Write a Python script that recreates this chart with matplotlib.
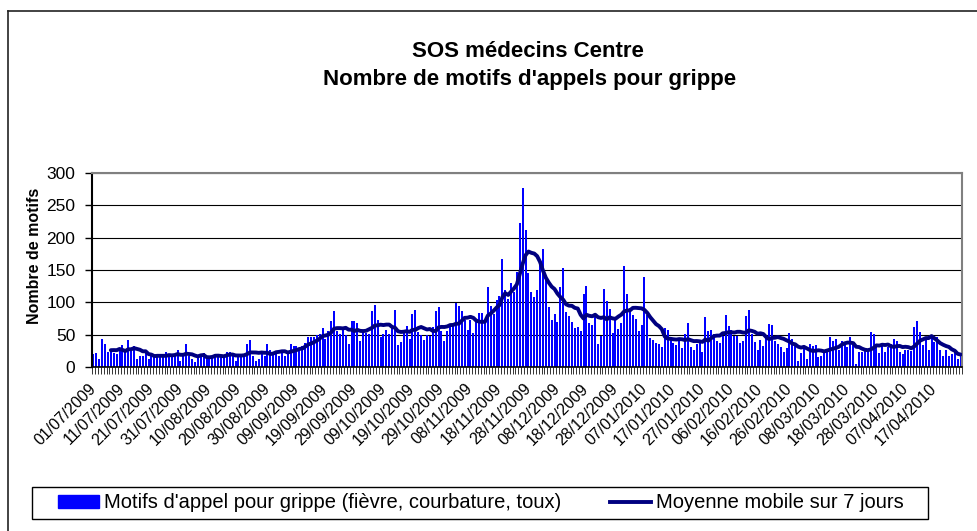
import matplotlib
matplotlib.use("Agg")
import matplotlib.pyplot as plt
import numpy as np
import pandas as pd
from matplotlib.lines import Line2D
from matplotlib.patches import Rectangle
from matplotlib.transforms import ScaledTranslation

# Nombre journalier de motifs d'appel pour grippe
juillet = [20, 21, 13, 44, 35, 23, 26, 21, 20, 26, 34, 23, 42, 26, 33, 12,
           17, 17, 23, 12, 20, 17, 15, 17, 17, 23, 20, 17, 20, 26, 9]
aout = [17, 35, 17, 13, 7, 17, 20, 21, 12, 15, 17, 20, 18, 17, 17, 23,
        23, 17, 10, 17, 17, 20, 36, 41, 17, 9, 13, 21, 17, 36, 27]
septembre = [23, 23, 17, 27, 17, 23, 35, 32, 32, 29, 32, 37, 46, 46, 46,
             49, 51, 60, 43, 55, 71, 86, 55, 51, 57, 49, 35, 71, 71, 68]
octobre = [40, 55, 52, 51, 86, 96, 72, 46, 51, 57, 51, 60, 88, 34, 38, 54,
           63, 43, 82, 88, 54, 49, 41, 49, 48, 62, 86, 93, 55, 40, 55]
novembre = [63, 63, 99, 94, 86, 72, 57, 72, 52, 69, 83, 83, 74, 124, 94,
            82, 103, 110, 167, 119, 105, 130, 116, 147, 223, 277, 212, 145,
            116, 108]
decembre = [119, 161, 183, 134, 93, 72, 82, 69, 124, 153, 85, 79, 70, 60,
            62, 56, 113, 125, 68, 65, 77, 35, 48, 121, 102, 90, 53, 73, 59,
            68, 156]
janvier = [113, 91, 80, 74, 56, 65, 139, 80, 45, 42, 37, 35, 31, 60, 57,
           43, 37, 34, 40, 29, 51, 68, 31, 27, 35, 37, 23, 77, 55, 57, 51]
fevrier = [40, 37, 48, 80, 63, 57, 48, 48, 37, 40, 79, 88, 51, 38, 27, 42,
           32, 45, 66, 65, 40, 35, 31, 23, 29, 52, 43, 32]
mars = [10, 21, 31, 13, 35, 32, 34, 15, 17, 23, 23, 46, 40, 43, 26, 40, 38,
        31, 46, 34, 4, 23, 23, 26, 26, 54, 51, 31, 21, 32, 23]
avril = [31, 36, 43, 40, 23, 20, 26, 27, 24, 62, 71, 54, 34, 41, 27, 46, 38,
         46, 26, 17, 27, 17, 20, 23, 13, 18]

motifs = (juillet + aout + septembre + octobre + novembre + decembre
          + janvier + fevrier + mars + avril)
dates = pd.date_range("2009-07-01", periods=len(motifs), freq="D")
moyenne = pd.Series(motifs).rolling(7).mean()

label_barres = "Motifs d'appel pour grippe (fièvre, courbature, toux)"
label_courbe = "Moyenne mobile sur 7 jours"

plt.rcParams['font.family'] = ['Liberation Sans', 'DejaVu Sans']

W, H = 977, 531
fig = plt.figure(figsize=(W / 100, H / 100), dpi=100)
ax = fig.add_axes([92 / W, 1 - 367 / H, 870 / W, 194 / H])

x = np.arange(len(motifs))
ax.bar(x, motifs, width=0.7, color='#0000FF', zorder=2)
ax.plot(x, moyenne, color='#000080', lw=2.8, zorder=3,
        solid_capstyle='round')

ax.set_xlim(-0.5, len(motifs) - 0.5)
ax.set_ylim(0, 300)
ax.set_yticks(range(0, 301, 50))
ax.yaxis.grid(True, color='black', lw=0.8)
ax.set_axisbelow(True)

ax.set_xticks(x[::10])
ax.set_xticklabels([d.strftime('%d/%m/%Y') for d in dates[::10]])
decalage = ScaledTranslation(-4 / 100, 0, fig.dpi_scale_trans)
for lab in ax.get_xticklabels():
    lab.set_rotation(45)
    lab.set_ha('right')
    lab.set_va('center')
    lab.set_rotation_mode('anchor')
    lab.set_fontsize(11.5)
    lab.set_transform(lab.get_transform() + decalage)
ax.set_xticks(np.arange(-0.5, len(motifs)), minor=True)
ax.tick_params(axis='x', which='major', length=0, pad=14)
ax.tick_params(axis='x', which='minor', length=5, width=0.7, color='#333333')
ax.tick_params(axis='y', length=5, width=1, labelsize=12.5, pad=7)

for s in ('top', 'right'):
    ax.spines[s].set_color('#808080')
    ax.spines[s].set_linewidth(1.5)
ax.spines['left'].set_linewidth(1.5)
ax.spines['bottom'].set_linewidth(1.2)

ax.set_ylabel('Nombre de motifs', fontsize=11.5, fontweight='bold')
ax.yaxis.set_label_coords((42 - 92) / 870, (367 - 256) / 194)

fig.text(528 / W, 1 - 57 / H, 'SOS médecins Centre', ha='center',
         va='baseline', fontsize=16, fontweight='bold')
fig.text(530 / W, 1 - 85 / H, "Nombre de motifs d'appels pour grippe",
         ha='center', va='baseline', fontsize=16, fontweight='bold')

# cadre du graphique (bord gauche et haut visibles)
fig.add_artist(Line2D([8 / W, 8 / W], [0, 1 - 11 / H], color='#222222',
                      lw=1.2, transform=fig.transFigure))
fig.add_artist(Line2D([8 / W, 1], [1 - 11 / H, 1 - 11 / H], color='#222222',
                      lw=1.2, transform=fig.transFigure))

# légende
fig.add_artist(Rectangle((32 / W, 1 - 519 / H), 896 / W, 32 / H,
                         transform=fig.transFigure, fill=False,
                         edgecolor='black', lw=1))
handles = [Rectangle((0, 0), 1, 1, color='#0000FF'),
           Line2D([0], [0], color='#000080', lw=2.8)]
fig.legend(handles, [label_barres, label_courbe], loc='center left',
           bbox_to_anchor=(58 / W, 1 - 503 / H), ncol=2, frameon=False,
           fontsize=14.5, handlelength=2.05, handleheight=0.6,
           handletextpad=0.25, columnspacing=2.4, borderpad=0,
           borderaxespad=0)

fig.savefig('out.png', dpi=100)
